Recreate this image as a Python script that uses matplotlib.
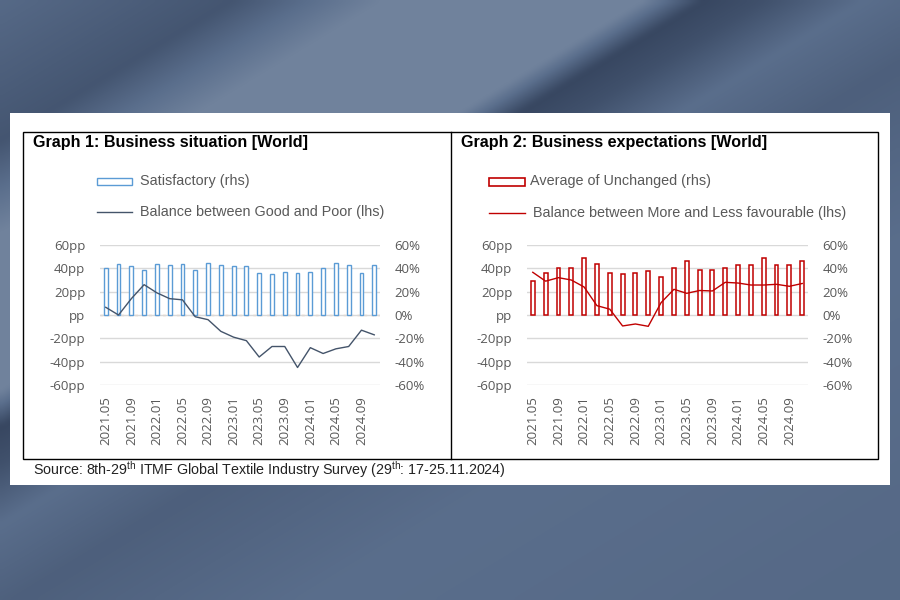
import numpy as np
import matplotlib.pyplot as plt
from matplotlib.patches import Rectangle
from matplotlib.lines import Line2D
from matplotlib.colors import LinearSegmentedColormap

plt.rcParams['mathtext.default'] = 'regular'

periods = ['2021.05', '2021.07', '2021.09', '2021.11', '2022.01', '2022.03',
           '2022.05', '2022.07', '2022.09', '2022.11', '2023.01', '2023.03',
           '2023.05', '2023.07', '2023.09', '2023.11', '2024.01', '2024.03',
           '2024.05', '2024.07', '2024.09', '2024.11']

# Graph 1: business situation
satisfactory = [40, 44, 42, 39, 44, 43, 44, 39, 44.5, 42.5, 42, 41.7,
                36, 35.4, 37, 36, 37, 40.3, 44.5, 43, 36, 43]
balance_good_poor = [6.6, 0, 14, 26, 19, 14, 13, -1.5, -4, -14, -19, -22,
                     -36, -27, -27, -45, -28, -33, -29, -27, -13, -17]

# Graph 2: business expectations
unchanged = [29, 36, 40, 40.6, 49, 44, 36, 35, 36, 37.4, 33, 40,
             46.6, 39, 39, 40.6, 43, 43, 49, 43, 43, 46.6]
balance_more_less = [36.6, 29, 32, 30, 24, 8, 5, -9.4, -7.7, -9.7, 10.6, 22,
                     18.6, 21, 20.6, 28, 27.4, 25.7, 25.7, 26.3, 24.6, 27]

yticks = [-60, -40, -20, 0, 20, 40, 60]
left_labels = [f'{v}pp' if v else 'pp' for v in yticks]
right_labels = [f'{v}%' for v in yticks]

W, H = 900, 600
def fx(px):
    return px / W
def fy(py):
    return 1 - py / H

fig = plt.figure(figsize=(9, 6), dpi=100)

# denim-ish backdrop: diagonal bands
bg = fig.add_axes([0, 0, 1, 1], zorder=-10)
px, py = np.meshgrid(np.arange(0, W, 4), np.arange(0, H, 4))
diag = px + 1.65 * py
knots = [0, 230, 380, 640, 700, 760, 860, 1000, 1300, 1800]
shade = [0.45, 0.25, 0.75, 0.75, 0.1, 0.2, 0.5, 0.35, 0.5, 0.45]
denim = LinearSegmentedColormap.from_list('denim', ['#2f3d56', '#5a6e8c', '#8797ad'])
bg.imshow(np.interp(diag, knots, shade), cmap=denim, vmin=0, vmax=1,
          extent=[0, 1, 0, 1], aspect='auto', interpolation='bicubic')
bg.set_axis_off()

# white card and frame
fig.patches.append(Rectangle((fx(10), fy(485)), fx(880), 372 / H,
                             transform=fig.transFigure, facecolor='white',
                             edgecolor='none', zorder=-5))
fig.patches.append(Rectangle((fx(23), fy(459)), fx(855), 327 / H,
                             transform=fig.transFigure, facecolor='none',
                             edgecolor='black', lw=1, zorder=-4))
fig.lines.append(Line2D([fx(451), fx(451)], [fy(459), fy(132)],
                        transform=fig.transFigure, color='black', lw=1))

gray = '#595959'
tick_font = ['Open Sans', 'DejaVu Sans']
text_font = ['Liberation Sans', 'DejaVu Sans']

x = np.arange(len(periods))


def panel(left_px, right_px, bars, line, bar_color, line_color, lw_bar):
    ax = fig.add_axes([fx(left_px), fy(385), (right_px - left_px) / W, 140 / H])
    ax2 = ax.twinx()
    ax2.bar(x, bars, width=0.3, facecolor='white', edgecolor=bar_color,
            linewidth=lw_bar)
    ax.plot(x, line, color=line_color, lw=1)
    ax.set_zorder(ax2.get_zorder() + 1)
    ax.patch.set_visible(False)
    for a, labels in ((ax, left_labels), (ax2, right_labels)):
        a.set_ylim(-60, 60)
        a.set_yticks(yticks)
        a.set_yticklabels(labels, fontsize=9.5, color=gray, family=tick_font)
        a.tick_params(axis='y', length=0, pad=10.5)
        for s in a.spines.values():
            s.set_visible(False)
    ax2.grid(axis='y', color='#d9d9d9', lw=1)
    ax2.set_axisbelow(True)
    ax.set_xlim(-0.45, len(periods) - 0.55)
    ax.set_xticks(x[::2])
    ax.set_xticklabels(periods[::2], rotation=90, fontsize=9.5, color=gray,
                       family=tick_font)
    ax.tick_params(axis='x', length=0, pad=8)
    return ax, ax2


ax1, ax1r = panel(100, 380, satisfactory, balance_good_poor,
                  '#5B9BD5', '#44546A', 1.0)
ax1r.axhline(0, color='#F4B183', lw=1, ls=(0, (2, 3)), alpha=0.8, zorder=0.5)
panel(527, 808, unchanged, balance_more_less, '#C00000', '#C00000', 1.1)

# titles
fig.text(fx(33), fy(143), 'Graph 1: Business situation [World]',
         fontsize=11.6, fontweight='bold', va='center', family=text_font)
fig.text(fx(461), fy(143), 'Graph 2: Business expectations [World]',
         fontsize=11.6, fontweight='bold', va='center', family=text_font)

# legends
fig.patches.append(Rectangle((fx(97), fy(185)), fx(35), 7 / H,
                             transform=fig.transFigure, facecolor='white',
                             edgecolor='#5B9BD5', lw=1))
fig.text(fx(140), fy(181), 'Satisfactory (rhs)', fontsize=10.4, color=gray,
         va='center', family=text_font)
fig.lines.append(Line2D([fx(97), fx(132)], [fy(212), fy(212)],
                        transform=fig.transFigure, color='#44546A', lw=1))
fig.text(fx(140), fy(212), 'Balance between Good and Poor (lhs)', fontsize=10.4,
         color=gray, va='center', family=text_font)

fig.patches.append(Rectangle((fx(489), fy(186)), fx(36), 8 / H,
                             transform=fig.transFigure, facecolor='white',
                             edgecolor='#C00000', lw=1.2))
fig.text(fx(530), fy(181), 'Average of Unchanged (rhs)', fontsize=10.4,
         color=gray, va='center', family=text_font)
fig.lines.append(Line2D([fx(489), fx(525)], [fy(213), fy(213)],
                        transform=fig.transFigure, color='#C00000', lw=1))
fig.text(fx(533), fy(213), 'Balance between More and Less favourable (lhs)',
         fontsize=10.4, color=gray, va='center', family=text_font)

fig.text(fx(33), fy(470),
         'Source: 8th-29$^{th}$ ITMF Global Textile Industry Survey '
         '(29$^{th}$: 17-25.11.2024)',
         fontsize=10.3, color='#222222', va='center', family=text_font)

fig.savefig('out.png', dpi=100)
